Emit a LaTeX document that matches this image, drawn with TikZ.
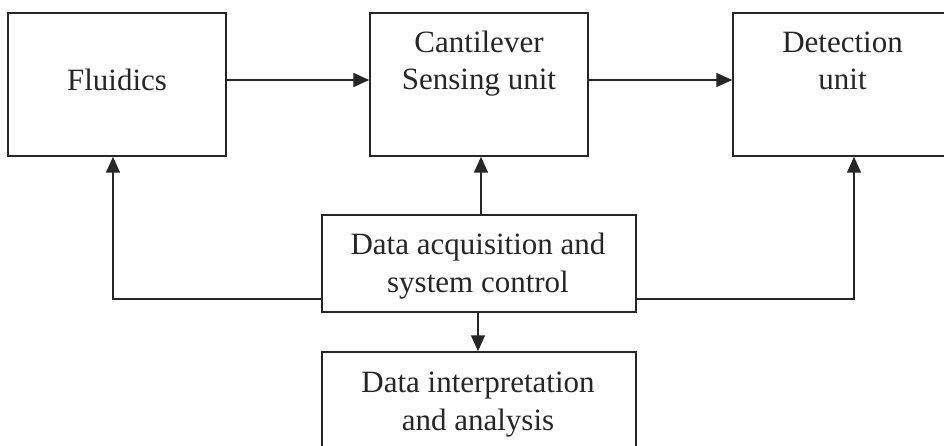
\documentclass[tikz,border=0pt]{standalone}
\usepackage{fontspec}
\setmainfont{Liberation Serif}
\usetikzlibrary{arrows.meta}
\begin{document}
\begin{tikzpicture}[x=1pt,y=-1pt,
  box/.style={draw=black!85,line width=1.5pt,inner sep=0pt},
  lbl/.style={inner sep=0pt,align=center,text=black!85,font=\fontsize{31}{37.6}\selectfont,anchor=base},
  arr/.style={draw=black!85,line width=1.5pt,-{Triangle[length=16pt,width=14pt]}},
  ln/.style={draw=black!85,line width=1.5pt}]
\useasboundingbox[fill=white] (0,0) rectangle (944,446);
% boxes
\node[box,minimum width=218pt,minimum height=143pt] (fl) at (117,84.5) {};
\node[box,minimum width=218pt,minimum height=143pt] (cs) at (479,84.5) {};
\node[box,minimum width=219pt,minimum height=143pt] (de) at (842.5,84.5) {};
\node[box,minimum width=314pt,minimum height=97pt] (dq) at (479,263.5) {};
\node[box,minimum width=314pt,minimum height=110pt] (di) at (479,407) {};
% texts (anchor at baseline of last line)
\node[lbl] (tfl) at (117,91) {Fluidics};
\node[lbl] (tcs) at (479,90) {Cantilever\\Sensing unit};
\node[lbl] (tde) at (842.5,90) {Detection\\unit};
\node[lbl] (tdq) at (478,292) {Data acquisition and\\system control};
\node[lbl] (tdi) at (478,430) {Data interpretation\\and analysis};
% coordinates for connector columns
\coordinate (c1) at (113,299);
\coordinate (c2) at (481,0);
\coordinate (c3) at (854,299);
\coordinate (c4) at (478,0);
% connectors
\draw[arr] (fl.east |- 0,80) -- (cs.west |- 0,80);
\draw[arr] (cs.east |- 0,80) -- (de.west |- 0,80);
\draw[arr] (dq.west |- c1) -| (fl.south -| c1);
\draw[arr] (dq.east |- c3) -| (de.south -| c3);
\draw[arr] (dq.north -| c2) -- (cs.south -| c2);
\draw[arr] (dq.south -| c4) -- (di.north -| c4);
\end{tikzpicture}
\end{document}
